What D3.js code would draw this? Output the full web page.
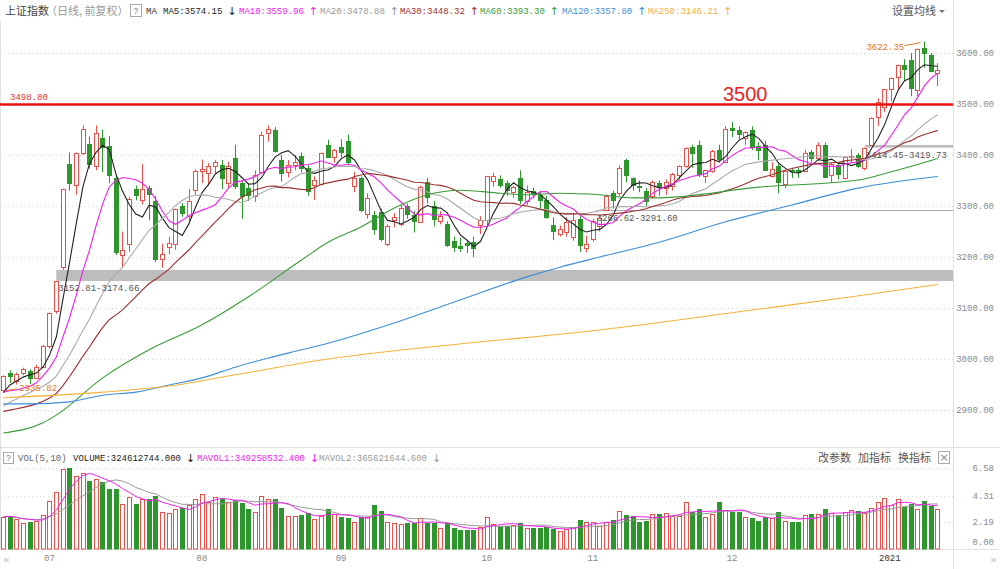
<!DOCTYPE html>
<html>
<head>
<meta charset="utf-8">
<script src="https://cdn.jsdelivr.net/npm/d3@7"></script>
<style>
body { margin: 0; background: #fff; }
</style>
</head>
<body>
<script>
// trading days shown on the chart
var dates = [
  "2020-06-19","2020-06-22","2020-06-23","2020-06-24","2020-06-29","2020-06-30",
  "2020-07-01","2020-07-02","2020-07-03","2020-07-06","2020-07-07","2020-07-08","2020-07-09","2020-07-10",
  "2020-07-13","2020-07-14","2020-07-15","2020-07-16","2020-07-17","2020-07-20","2020-07-21","2020-07-22",
  "2020-07-23","2020-07-24","2020-07-27","2020-07-28","2020-07-29","2020-07-30","2020-07-31",
  "2020-08-03","2020-08-04","2020-08-05","2020-08-06","2020-08-07","2020-08-10","2020-08-11","2020-08-12",
  "2020-08-13","2020-08-14","2020-08-17","2020-08-18","2020-08-19","2020-08-20","2020-08-21","2020-08-24",
  "2020-08-25","2020-08-26","2020-08-27","2020-08-28","2020-08-31",
  "2020-09-01","2020-09-02","2020-09-03","2020-09-04","2020-09-07","2020-09-08","2020-09-09","2020-09-10",
  "2020-09-11","2020-09-14","2020-09-15","2020-09-16","2020-09-17","2020-09-18","2020-09-21","2020-09-22",
  "2020-09-23","2020-09-24","2020-09-25","2020-09-28","2020-09-29","2020-09-30",
  "2020-10-09","2020-10-12","2020-10-13","2020-10-14","2020-10-15","2020-10-16","2020-10-19","2020-10-20",
  "2020-10-21","2020-10-22","2020-10-23","2020-10-26","2020-10-27","2020-10-28","2020-10-29","2020-10-30",
  "2020-11-02","2020-11-03","2020-11-04","2020-11-05","2020-11-06","2020-11-09","2020-11-10","2020-11-11",
  "2020-11-12","2020-11-13","2020-11-16","2020-11-17","2020-11-18","2020-11-19","2020-11-20","2020-11-23",
  "2020-11-24","2020-11-25","2020-11-26","2020-11-27","2020-11-30",
  "2020-12-01","2020-12-02","2020-12-03","2020-12-04","2020-12-07","2020-12-08","2020-12-09","2020-12-10",
  "2020-12-11","2020-12-14","2020-12-15","2020-12-16","2020-12-17","2020-12-18","2020-12-21","2020-12-22",
  "2020-12-23","2020-12-24","2020-12-25","2020-12-28","2020-12-29","2020-12-30","2020-12-31",
  "2021-01-04","2021-01-05","2021-01-06","2021-01-07","2021-01-08","2021-01-11","2021-01-12","2021-01-13",
  "2021-01-14","2021-01-15"
];

var open = [
  2940,2972,2956,2972,2976,2964,
  2985,3025,3094,3180,3382,3340,3404,3422,3378,3433,3418,3355,3205,3226,3333,3312,3336,3310,3196,3220,3225,3300,3280,
  3330,3368,3363,3379,3380,3345,3395,3345,3335,3318,3367,3443,3450,3390,3366,3380,3398,3375,3340,3343,3420,
  3396,3415,3427,3340,3355,3285,3283,3288,3225,3272,3265,3300,3283,3270,3347,3300,3270,3265,3232,3222,3228,3230,
  3262,3272,3350,3353,3345,3326,3355,3310,3330,3322,3312,3262,3245,3250,3240,3275,
  3218,3236,3262,3292,3325,3325,3390,3355,3340,3330,3320,3345,3335,3340,3360,3380,3415,3420,3358,3370,3410,
  3388,3453,3450,3432,3450,3418,3420,3360,3378,3343,3370,3370,3370,3406,3395,3420,3360,3381,3355,3396,3400,3375,3419.73,
  3474,3493,3530,3552,3577,3587,3528,3609,3597,3560
];
var high = [
  2968,2978,2973,2983,2980,2989,
  3027,3091,3152.81,3334,3405,3405,3458,3436,3458,3450,3437,3363,3250,3318,3340,3382,3340,3320,3226,3240,3295,3306,3333,
  3372,3391,3384,3390,3390,3387,3420,3350,3345,3370,3446,3458,3455,3400,3390,3400,3405,3380,3358,3405,3430,
  3412,3431,3440,3367,3358,3325,3290,3295,3264,3286,3302,3305,3290,3340,3355,3310,3290,3270,3240,3238,3232,3240,
  3280,3359,3365,3360,3350,3340,3370,3340,3336,3330,3320,3278,3262,3278,3285,3280,
  3242,3275,3282,3322,3330,3380,3393,3356,3350,3335,3350,3350,3352,3365,3380,3415,3420,3428,3370,3410,3420,
  3457,3465,3456,3446,3456,3425,3428,3386,3383,3370,3375,3375,3410,3410,3425,3425,3385,3384,3397,3412,3404,3414.45,3474,
  3511,3528.68,3552,3577,3588,3600,3609,3622.35,3600,3580
];
var low = [
  2935.82,2953,2950,2968,2951,2963,
  2984,3021,3089,3174.66,3330,3322,3400,3373,3370,3366,3345,3204,3180,3210,3311,3303,3272,3190,3179,3205,3214,3279,3270,
  3321,3345,3340,3365,3333,3335,3333,3275,3310,3308,3366,3426,3405,3348,3356,3370,3366,3320,3312,3340,3395,
  3385,3395,3380,3327,3288,3275,3244,3231,3221,3258,3260,3275,3248,3270,3305,3260,3264,3220,3210,3210,3208,3200,
  3245,3262,3338,3336,3320,3316,3304,3302,3315,3295,3275,3233,3240,3240,3232,3210,
  3209,3230,3250,3291.60,3295,3320,3346,3330,3327,3300,3314,3320,3322,3330,3352,3375,3375,3357,3345,3365,3385,
  3386,3435,3430,3420,3410,3390,3370,3356,3325,3335,3355,3355,3368,3385,3390,3356,3345,3352,3352,3385,3375,3370,3419.73,
  3457,3484,3505,3526,3544,3515,3515,3571,3563,3535
];
var close = [
  2967.63,2965.27,2970.62,2979.55,2961.52,2984.67,
  3025.98,3090.57,3152.81,3332.88,3345.34,3403.44,3450.59,3383.32,3443.29,3414.62,3361.30,3210.10,3214.13,3314.15,
  3320.90,3333.16,3325.11,3196.77,3205.23,3227.96,3294.55,3286.82,3310.01,
  3367.97,3371.69,3377.56,3386.46,3354.04,3379.25,3340.29,3319.27,3320.73,3360.10,3438.80,3451.09,3408.13,3363.90,
  3380.68,3385.64,3373.58,3329.74,3350.11,3403.81,3395.68,
  3410.61,3404.80,3384.98,3355.37,3292.59,3316.42,3254.63,3234.82,3260.35,3278.81,3295.68,3283.92,3270.44,3338.09,
  3316.94,3274.30,3279.71,3223.18,3219.42,3217.53,3224.36,3218.05,
  3272.08,3358.47,3359.75,3340.49,3332.18,3336.36,3312.50,3328.10,3325.03,3312.16,3278.00,3251.12,3254.32,3269.24,
  3272.74,3224.53,
  3225.12,3271.07,3277.44,3320.13,3312.16,3373.73,3360.15,3342.20,3338.68,3310.10,3346.97,3339.90,3347.30,3363.09,
  3377.73,3414.49,3402.82,3362.33,3369.73,3408.31,3391.76,
  3451.94,3449.38,3442.14,3444.58,3416.60,3410.18,3371.96,3373.28,3347.19,3369.12,3367.23,3366.98,3404.87,3394.90,
  3420.57,3356.78,3382.32,3363.11,3396.56,3397.29,3379.04,3414.45,3473.07,
  3502.96,3528.68,3550.88,3576.20,3570.11,3531.50,3608.34,3598.65,3565.90,3566.38
];
// closes of the 29 sessions before the first candle (needed for MA5..MA30)
var closesBefore = [
  2894.80,2891.56,2898.05,2870.34,2868.46,2875.42,2898.58,2883.74,2867.92,2813.77,2817.97,2846.55,2836.80,2846.22,
  2852.35,2915.43,2921.40,2923.37,2919.25,2930.80,2937.77,2956.11,2943.75,2920.90,2919.74,2890.03,2931.75,2941.69,
  2939.32
];
// volume, 1e8 shares
var volume = [
  2.62,2.68,2.41,2.14,2.19,2.30,2.76,3.92,4.60,6.49,
  6.55,5.95,6.19,5.54,5.65,5.41,4.89,4.89,3.65,4.19,
  3.65,4.03,4.03,4.30,2.98,2.89,3.24,3.35,3.57,4.06,
  4.43,3.79,4.19,4.08,3.79,3.97,3.76,3.22,3.03,4.32,
  4.06,4.06,3.30,2.70,2.70,2.76,2.95,2.41,2.68,3.27,
  2.81,2.62,2.54,2.16,2.62,2.57,3.57,3.11,2.22,2.14,
  2.03,2.08,2.08,2.54,2.14,2.14,1.68,2.08,1.68,1.54,
  1.54,1.54,1.81,2.62,2.03,1.87,1.87,1.95,2.14,1.68,
  1.73,1.68,1.76,1.62,1.46,1.62,1.81,2.35,2.22,2.16,
  1.89,2.22,2.35,3.11,2.76,2.68,2.22,2.27,2.84,2.84,
  2.89,2.68,2.68,3.78,2.97,3.24,2.57,2.84,3.84,3.16,
  3.03,2.97,2.57,2.54,2.27,2.57,2.49,2.97,2.27,2.22,
  2.16,2.76,2.84,2.84,3.24,2.89,2.76,2.97,3.16,3.11,
  2.89,3.30,3.84,4.11,3.57,4.03,3.43,3.65,3.24,3.92,
  3.51,3.24
];

// long averages: [candle index, value]
var ma60Pts = [[0,2855],[6,2875],[8,2890],[15,2963],[22,3018],[30,3067],[37,3122],[45,3194],[49,3229],[54,3259],
  [59,3296],[64,3322],[69,3331],[75,3325],[79,3322],[84,3325],[90,3322],[95,3316],[99,3316],[114,3337],[129,3351],
  [134,3367],[141,3393.30]];
var ma120Pts = [[0,2912],[4,2912],[10,2916],[15,2929],[20,2935],[25,2949],[30,2963],[35,2984],[40,3002],[45,3018],
  [49,3031],[60,3075],[69,3116],[79,3161],[84,3180],[90,3200],[99,3229],[109,3269],[119,3302],[129,3335],[141,3357.80]];
var ma250Pts = [[0,2924],[15,2935],[25,2947],[35,2969],[49,3000],[67,3027],[90,3057],[113,3096],[128,3122],[141,3146.21]];

var maNames = ["MA5","MA10","MA20","MA30","MA60","MA120","MA250"];
var maLast = ["3574.15","3559.96","3478.88","3448.32","3393.30","3357.80","3146.21"];
var maArrows = ["↓","↑","↑","↑","↑","↑","↑"];

var priceTicks = [2900, 3000, 3100, 3200, 3300, 3400, 3500, 3600];
var volTicks = [0, 2.19, 4.31, 6.58];
var monthLabels = ["07","08","09","10","11","12","2021"];
var monthStarts = ["2020-07-01","2020-08-03","2020-09-01","2020-10-09","2020-11-02","2020-12-01","2021-01-04"];

var lineLevel = 3498.80;
var gaps = [[3152.81, 3174.66, "2020-07-03"], [3266.62, 3291.60, "2020-11-04"], [3414.45, 3419.73, "2020-12-30"]];

var RED = "#e8504c", GREEN = "#2d962d";
var maColors = ["#222222", "#ee22ee", "#aaaaaa", "#9b3030", "#3a9a3a", "#3d8ed6", "#f3b23a"];

var n = dates.length;
var svg = d3.select("body").append("svg")
    .attr("width", 1000)
    .attr("height", 569)
    .style("font-family", "'Liberation Mono', 'DejaVu Sans Mono', monospace");

var x = d3.scaleBand().domain(d3.range(n)).range([0, 941]).paddingInner(0.3).paddingOuter(0.15);
var cx = function (i) { return x(i) + x.bandwidth() / 2; };
var y = d3.scaleLinear().domain([2900, 3600]).range([410, 53]);
var yv = d3.scaleLinear().domain([0, 6.58]).range([549, 468]);

// frames
svg.append("line").attr("x1", 953.5).attr("x2", 953.5).attr("y1", 0).attr("y2", 569).attr("stroke", "#e2e2e2");
svg.append("line").attr("x1", 0.5).attr("x2", 0.5).attr("y1", 21).attr("y2", 549).attr("stroke", "#e2e2e2");
svg.append("line").attr("x1", 0).attr("x2", 1000).attr("y1", 447.5).attr("y2", 447.5).attr("stroke", "#e2e2e2");
svg.append("line").attr("x1", 0).attr("x2", 1000).attr("y1", 549.5).attr("y2", 549.5).attr("stroke", "#e2e2e2");

svg.append("clipPath").attr("id", "mainClip").append("rect")
    .attr("x", 0).attr("y", 21).attr("width", 953).attr("height", 426);
var gMain = svg.append("g").attr("clip-path", "url(#mainClip)");

// dotted grid
gMain.selectAll(".grid").data(priceTicks).enter().append("line")
    .attr("x1", 0).attr("x2", 953)
    .attr("y1", function (d) { return Math.round(y(d)) + 0.5; })
    .attr("y2", function (d) { return Math.round(y(d)) + 0.5; })
    .attr("stroke", "#d8d8d8").attr("stroke-dasharray", "1,3");

// price axis
var yAxis = svg.append("g").attr("transform", "translate(994,0)")
    .call(d3.axisLeft(y).tickValues(priceTicks).tickFormat(d3.format(".2f")).tickSize(0).tickPadding(0));
yAxis.select(".domain").remove();
yAxis.selectAll("text").attr("fill", "#8a8a8a").attr("font-size", "9px")
    .attr("font-family", "'Liberation Mono', monospace");

// gap bands
gaps.forEach(function (g, k) {
    var i0 = dates.indexOf(g[2]);
    var top = y(g[1]), bot = y(g[0]);
    if (k === 0) {
        gMain.append("rect").attr("x", cx(i0)).attr("y", top).attr("width", 953 - cx(i0)).attr("height", bot - top)
            .attr("fill", "#bdbdbd");
        svg.append("text").attr("x", cx(i0) + 2).attr("y", bot + 10).text(g[0].toFixed(2) + "-" + g[1].toFixed(2))
            .attr("font-size", "9px").attr("fill", "#555");
    } else if (k === 1) {
        gMain.append("line").attr("x1", cx(i0) - 3).attr("x2", 953).attr("y1", Math.round(top) + 0.5).attr("y2", Math.round(top) + 0.5)
            .attr("stroke", "#aaa");
        svg.append("text").attr("x", cx(i0) - 3).attr("y", top + 11).text(g[0].toFixed(2) + "-" + g[1].toFixed(2))
            .attr("font-size", "9px").attr("fill", "#555");
    } else {
        gMain.append("rect").attr("x", cx(i0)).attr("y", top).attr("width", 953 - cx(i0)).attr("height", Math.max(1.5, bot - top))
            .attr("fill", "#bdbdbd");
        svg.append("text").attr("x", cx(i0) + 1).attr("y", bot + 10).text(g[0].toFixed(2) + "-" + g[1].toFixed(2))
            .attr("font-size", "9px").attr("fill", "#555");
    }
});

// candles
var idx = d3.range(n);
var isUp = function (i) { return close[i] >= open[i]; };
gMain.selectAll(".wick").data(idx).enter().append("line")
    .attr("x1", function (i) { return Math.round(x(i)) + 2.5; })
    .attr("x2", function (i) { return Math.round(x(i)) + 2.5; })
    .attr("y1", function (i) { return y(high[i]); })
    .attr("y2", function (i) { return y(low[i]); })
    .attr("stroke", function (i) { return isUp(i) ? RED : GREEN; });
gMain.selectAll(".body").data(idx).enter().append("rect")
    .attr("x", function (i) { return Math.round(x(i)) + 0.5; })
    .attr("y", function (i) { return Math.round(y(Math.max(open[i], close[i]))) + 0.5; })
    .attr("width", 4)
    .attr("height", function (i) { return Math.max(1, Math.round(Math.abs(y(open[i]) - y(close[i])))); })
    .attr("fill", function (i) { return isUp(i) ? "#fff" : GREEN; })
    .attr("stroke", function (i) { return isUp(i) ? RED : GREEN; });

// moving averages
var allCloses = closesBefore.concat(close);
var off = closesBefore.length;
function ma(k) {
    return idx.map(function (i) { return [i, d3.mean(allCloses.slice(i + off - k + 1, i + off + 1))]; });
}
var series = [ma(5), ma(10), ma(20), ma(30), ma60Pts, ma120Pts, ma250Pts];
var line = d3.line().x(function (d) { return cx(d[0]); }).y(function (d) { return y(d[1]); });
var smooth = d3.line().x(function (d) { return cx(d[0]); }).y(function (d) { return y(d[1]); }).curve(d3.curveMonotoneX);
series.forEach(function (s, k) {
    gMain.append("path").datum(s)
        .attr("d", k < 4 ? line : smooth)
        .attr("fill", "none").attr("stroke", maColors[k]).attr("stroke-width", 1.1);
});

// support line 3498.80
gMain.append("line").attr("x1", 0).attr("x2", 953).attr("y1", y(lineLevel)).attr("y2", y(lineLevel))
    .attr("stroke", "#e81010").attr("stroke-width", 2.5);
svg.append("text").attr("x", 10).attr("y", y(lineLevel) - 5).text(lineLevel.toFixed(2))
    .attr("font-size", "9px").attr("fill", "#e83030");
svg.append("text").attr("x", 723).attr("y", y(lineLevel) - 4).text("3500")
    .attr("font-family", "'Liberation Sans', Arial, sans-serif").attr("font-size", "20px").attr("fill", "#e8231f");

// extreme labels
var iMax = d3.maxIndex(high), iMin = d3.minIndex(low);
svg.append("text").attr("x", cx(iMax) - 58).attr("y", y(high[iMax]) + 8).text(high[iMax].toFixed(2))
    .attr("font-size", "9px").attr("fill", "#e0762c");
svg.append("path").attr("d", "M" + (cx(iMax) - 20) + "," + (y(high[iMax]) + 4) + " L" + (cx(iMax) - 4) + "," + (y(high[iMax]) + 1))
    .attr("stroke", "#e0762c").attr("fill", "none");
svg.append("text").attr("x", cx(iMin) + 16).attr("y", y(low[iMin]) - 1).text(low[iMin].toFixed(2))
    .attr("font-size", "9px").attr("fill", "#e0762c");
svg.append("path").attr("d", "M" + (cx(iMin) + 14) + "," + (y(low[iMin]) - 3) + " L" + (cx(iMin) + 2) + "," + (y(low[iMin]) - 1))
    .attr("stroke", "#e0762c").attr("fill", "none");

// top legend
svg.append("text").attr("x", 5).attr("y", 15).text("上证指数")
    .attr("font-family", "'Noto Sans CJK SC', sans-serif").attr("font-size", "11px").attr("fill", "#444");
svg.append("text").attr("x", 46).attr("y", 15).text("（日线, 前复权）")
    .attr("font-family", "'Noto Sans CJK SC', sans-serif").attr("font-size", "11px").attr("fill", "#999");
svg.append("rect").attr("x", 130.5).attr("y", 4.5).attr("width", 11).attr("height", 12).attr("fill", "none").attr("stroke", "#aaa");
svg.append("text").attr("x", 136).attr("y", 14).attr("text-anchor", "middle").text("?").attr("font-size", "9px").attr("fill", "#888");
svg.append("text").attr("x", 146).attr("y", 14).text("MA").attr("font-size", "9px").attr("fill", "#333");
var legX = [163, 239, 320, 400, 480, 562, 648];
maNames.forEach(function (nm, k) {
    var t = svg.append("text").attr("x", legX[k]).attr("y", 14).text(nm + ":" + maLast[k])
        .attr("font-size", "9px").attr("fill", maColors[k] === "#aaaaaa" ? "#999" : maColors[k]);
    var w = t.node().getComputedTextLength();
    svg.append("text").attr("x", legX[k] + w + 5).attr("y", 15).text(maArrows[k])
        .attr("font-family", "'DejaVu Sans', sans-serif").attr("font-size", "11px")
        .attr("fill", k === 0 ? "#222" : (k === 2 ? "#999" : maColors[k]));
});
svg.append("text").attr("x", 892).attr("y", 15).text("设置均线")
    .attr("font-family", "'Noto Sans CJK SC', sans-serif").attr("font-size", "11px").attr("fill", "#555");
svg.append("path").attr("d", "M939,10 L945,10 L942,13 Z").attr("fill", "#777");

// volume pane
var gVol = svg.append("g");
gVol.selectAll(".vgrid").data(volTicks.slice(1)).enter().append("line")
    .attr("x1", 0).attr("x2", 953)
    .attr("y1", function (d) { return Math.round(yv(d)) + 0.5; })
    .attr("y2", function (d) { return Math.round(yv(d)) + 0.5; })
    .attr("stroke", "#d8d8d8").attr("stroke-dasharray", "1,3");
gVol.selectAll(".vbar").data(idx).enter().append("rect")
    .attr("x", function (i) { return Math.round(x(i)) + 0.5; })
    .attr("y", function (i) { return Math.round(yv(volume[i])) + 0.5; })
    .attr("width", 4)
    .attr("height", function (i) { return 549 - Math.round(yv(volume[i])) - 0.5; })
    .attr("fill", function (i) { return isUp(i) ? "#fff" : GREEN; })
    .attr("stroke", function (i) { return isUp(i) ? RED : GREEN; });
function mavol(k) {
    return idx.map(function (i) { return [i, d3.mean(volume.slice(Math.max(0, i - k + 1), i + 1))]; });
}
var vline = d3.line().x(function (d) { return cx(d[0]); }).y(function (d) { return yv(d[1]); });
gVol.append("path").datum(mavol(10)).attr("d", vline).attr("fill", "none").attr("stroke", "#999").attr("stroke-width", 1);
gVol.append("path").datum(mavol(5)).attr("d", vline).attr("fill", "none").attr("stroke", "#ee22ee").attr("stroke-width", 1);

var vAxis = svg.append("g").attr("transform", "translate(994,0)")
    .call(d3.axisLeft(yv).tickValues(volTicks).tickFormat(d3.format(".2f")).tickSize(0).tickPadding(0));
vAxis.select(".domain").remove();
vAxis.selectAll("text").attr("fill", "#8a8a8a").attr("font-size", "9px").attr("font-family", "'Liberation Mono', monospace");
vAxis.selectAll(".tick").filter(function (d) { return d === 0; }).attr("transform", "translate(0,542)");

// volume legend
svg.append("rect").attr("x", 3.5).attr("y", 452.5).attr("width", 10).attr("height", 11).attr("fill", "none").attr("stroke", "#aaa");
svg.append("text").attr("x", 8.5).attr("y", 461).attr("text-anchor", "middle").text("?").attr("font-size", "9px").attr("fill", "#888");
var volLeg = [
    ["VOL(5,10)", "#666", 18, ""],
    ["VOLUME:324612744.000", "#222", 73, "↓"],
    ["MAVOL1:349258532.400", "#ee22ee", 197, "↓"],
    ["MAVOL2:365621644.600", "#999", 319, "↓"]
];
volLeg.forEach(function (d) {
    var t = svg.append("text").attr("x", d[2]).attr("y", 461).text(d[0]).attr("font-size", "9px").attr("fill", d[1]);
    if (d[3]) {
        svg.append("text").attr("x", d[2] + t.node().getComputedTextLength() + 5).attr("y", 462).text(d[3])
            .attr("font-family", "'DejaVu Sans', sans-serif").attr("font-size", "11px").attr("fill", d[1]);
    }
});
["改参数", "加指标", "换指标"].forEach(function (s, k) {
    svg.append("text").attr("x", 818 + k * 40).attr("y", 462).text(s)
        .attr("font-family", "'Noto Sans CJK SC', sans-serif").attr("font-size", "11px").attr("fill", "#555");
});
svg.append("rect").attr("x", 938.5).attr("y", 451.5).attr("width", 11).attr("height", 12).attr("fill", "none").attr("stroke", "#aaa");
svg.append("text").attr("x", 944).attr("y", 461).attr("text-anchor", "middle").text("×")
    .attr("font-family", "'DejaVu Sans', sans-serif").attr("font-size", "11px").attr("fill", "#888");

// month axis
var monthIdx = monthStarts.map(function (d) { return dates.indexOf(d); });
var xAxis = svg.append("g").attr("transform", "translate(0,553)")
    .call(d3.axisBottom(x).tickValues(monthIdx).tickFormat(function (i) { return monthLabels[monthIdx.indexOf(i)]; })
        .tickSize(0).tickPadding(0));
xAxis.select(".domain").remove();
xAxis.selectAll("text").attr("text-anchor", "start").attr("dx", "1px").attr("dy", "0.9em")
    .attr("font-size", "9px").attr("font-family", "'Liberation Mono', monospace")
    .attr("fill", function (i) { return monthLabels[monthIdx.indexOf(i)] === "2021" ? "#333" : "#888"; });
svg.append("text").attr("x", 3).attr("y", 563).text("«").attr("font-family", "'DejaVu Sans', sans-serif")
    .attr("font-size", "11px").attr("fill", "#bbb");
svg.append("text").attr("x", 990).attr("y", 563).text("»").attr("font-family", "'DejaVu Sans', sans-serif")
    .attr("font-size", "11px").attr("fill", "#bbb");
</script>
</body>
</html>
